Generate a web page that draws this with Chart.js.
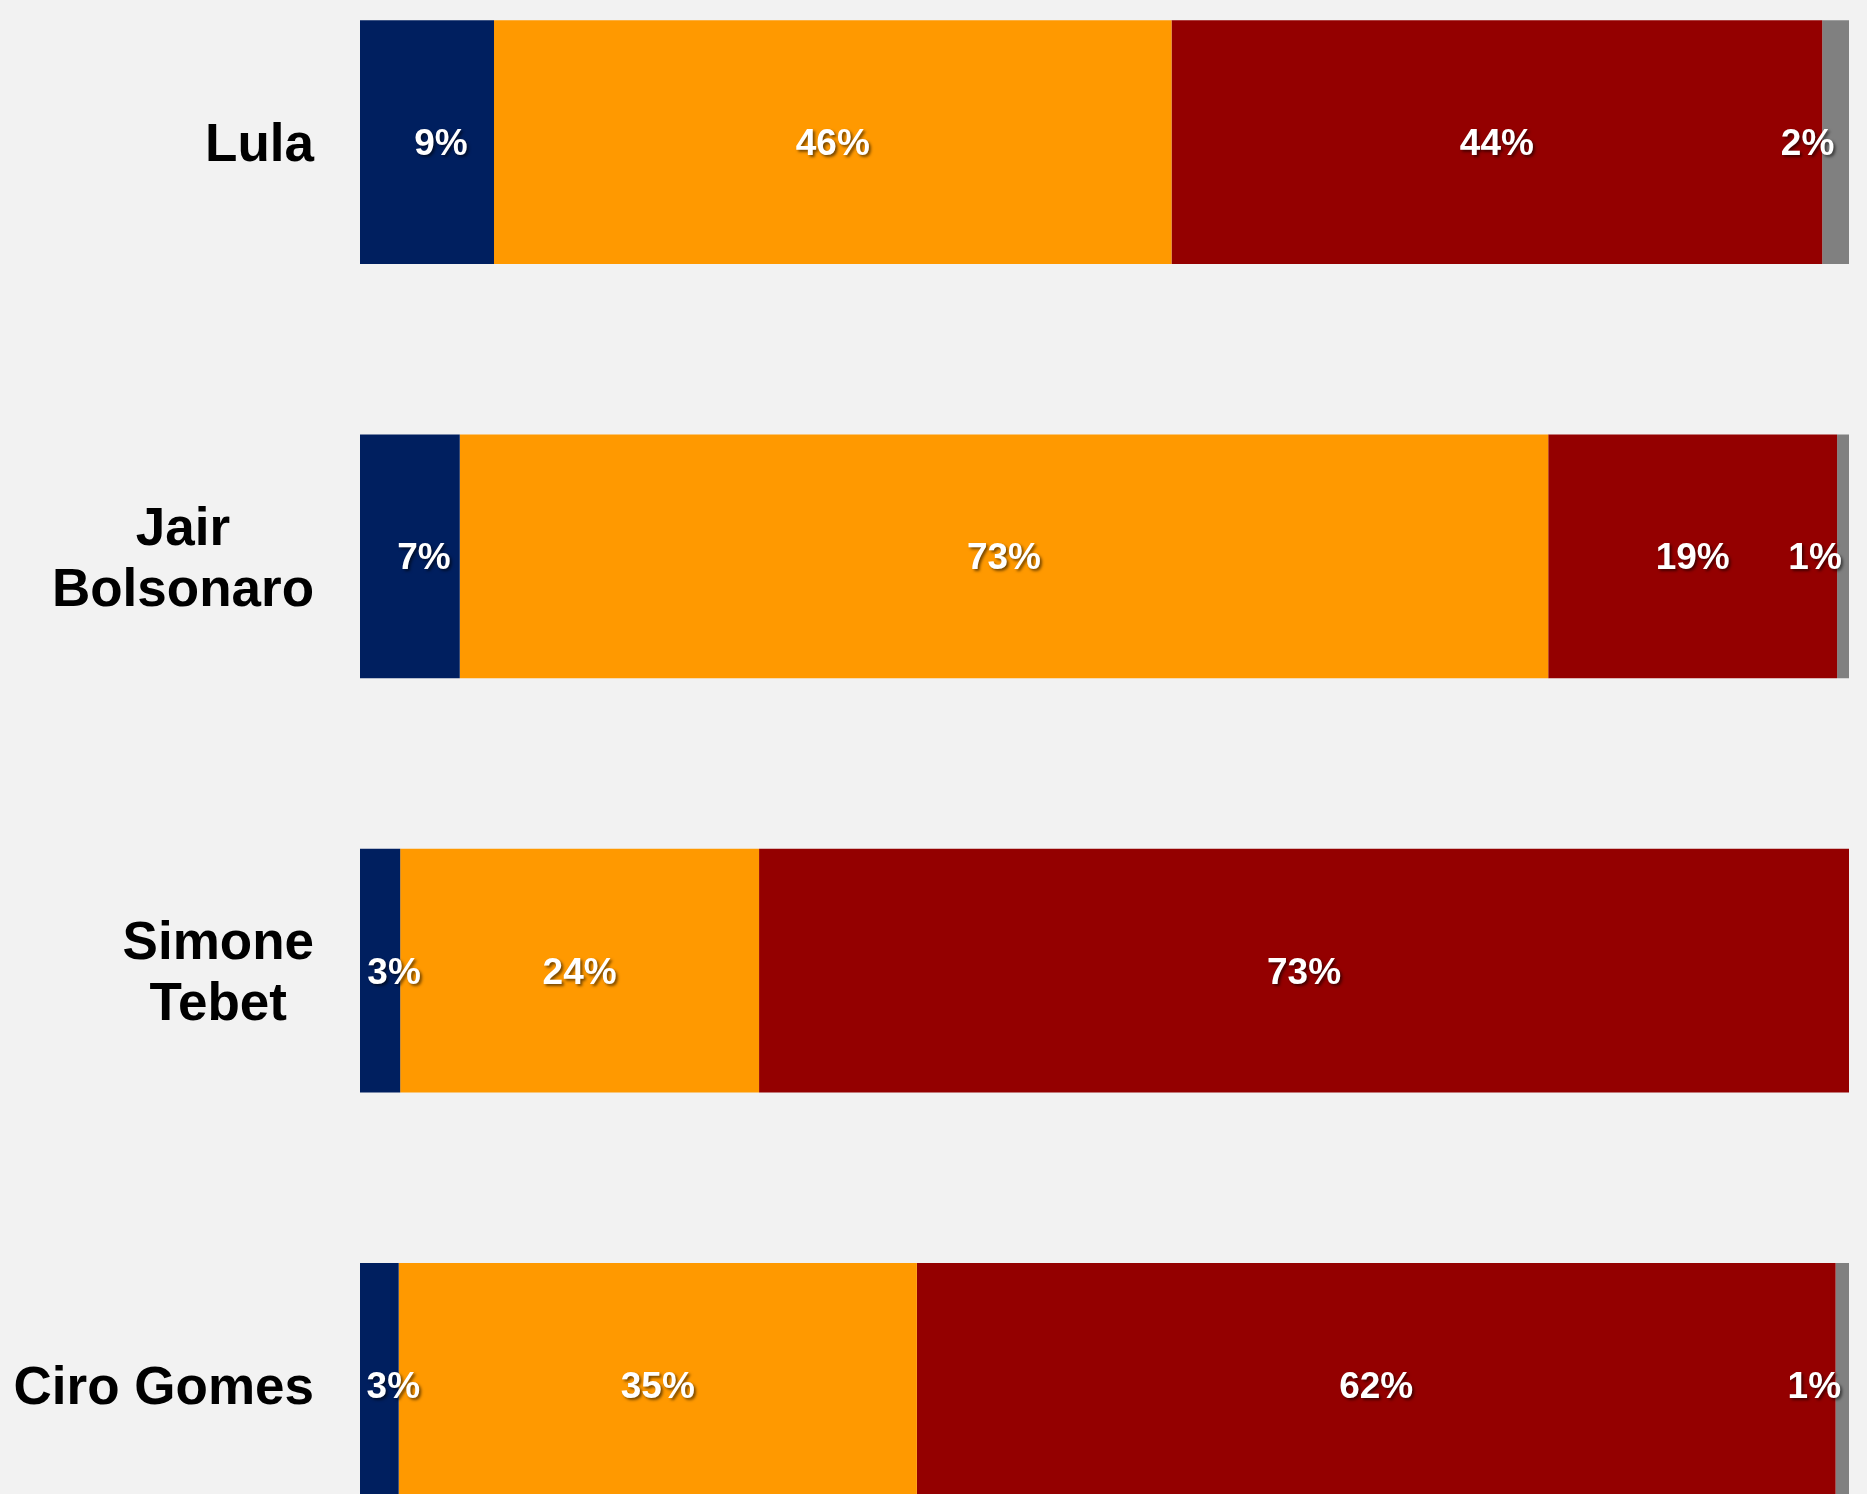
<!DOCTYPE html>
<html>
<head>
<meta charset="utf-8">
<script src="https://cdn.jsdelivr.net/npm/chart.js@4.4.1/dist/chart.umd.min.js"></script>
<style>
  body { margin: 0; background: #f2f2f2; }
  #frame { position: relative; width: 1867px; height: 1494px; overflow: hidden; background: #f2f2f2; }
  #wrap { position: absolute; left: 0; top: -65px; width: 1867px; height: 1657px; }
</style>
</head>
<body>
<div id="frame">
  <div id="wrap"><canvas id="chart"></canvas></div>
</div>
<script>
// kategori (kandidat)
const candidates = [["Lula"], ["Jair", "Bolsonaro"], ["Simone", "Tebet"], ["Ciro Gomes"]];

// nilai tiap segmen (persen)
const serieBiru = [9.0, 6.7, 2.7, 2.6];
const serieOranye = [45.5, 73.1, 24.1, 34.8];
const serieMerah = [43.7, 19.4, 73.2, 61.7];
const serieAbu = [1.8, 0.8, 0, 0.9];

const warna = ["#001f5f", "#ff9900", "#940000", "#808080"];
// geser label kecil (biru ke kanan, abu ke kiri)
const geserLabel = [14, 0, 0, -28];

const fontName = '"Liberation Sans", Arial, sans-serif';

// plugin untuk nama kandidat di kiri (baris ditengahkan, blok rata kanan)
const namaPlugin = {
  id: "namaKandidat",
  afterDraw(chart) {
    const ctx = chart.ctx;
    const yScale = chart.scales.y;
    const right = chart.chartArea.left - 46;
    ctx.save();
    ctx.font = "bold 53px " + fontName;
    ctx.fillStyle = "#000";
    ctx.textAlign = "center";
    ctx.textBaseline = "alphabetic";
    candidates.forEach(function (lines, i) {
      const y = yScale.getPixelForValue(i);
      const maxW = Math.max(...lines.map(function (l) { return ctx.measureText(l).width; }));
      const cx = right - maxW / 2;
      lines.forEach(function (l, k) {
        const by = y + 19 + (k - (lines.length - 1) / 2) * 61;
        ctx.fillText(l, cx, by);
      });
    });
    ctx.restore();
  },
};

// plugin label persen di dalam batang
const labelPlugin = {
  id: "labelPersen",
  afterDatasetsDraw(chart) {
    const ctx = chart.ctx;
    ctx.save();
    ctx.font = "bold 37px " + fontName;
    ctx.fillStyle = "#ffffff";
    ctx.textAlign = "center";
    ctx.textBaseline = "alphabetic";
    ctx.shadowColor = "rgba(0,0,0,0.55)";
    ctx.shadowOffsetX = 2;
    ctx.shadowOffsetY = 2;
    ctx.shadowBlur = 3;
    chart.data.datasets.forEach(function (ds, di) {
      const meta = chart.getDatasetMeta(di);
      meta.data.forEach(function (bar, i) {
        const v = ds.data[i];
        if (!v) return;
        const cx = (bar.x + bar.base) / 2 + geserLabel[di];
        ctx.fillText(Math.round(v) + "%", cx, bar.y + 13);
      });
    });
    ctx.restore();
  },
};

new Chart(document.getElementById("chart"), {
  type: "bar",
  data: {
    labels: candidates,
    datasets: [
      { label: "Biru", data: serieBiru, backgroundColor: warna[0] },
      { label: "Oranye", data: serieOranye, backgroundColor: warna[1] },
      { label: "Merah", data: serieMerah, backgroundColor: warna[2] },
      { label: "Abu", data: serieAbu, backgroundColor: warna[3] },
    ],
  },
  options: {
    indexAxis: "y",
    responsive: true,
    maintainAspectRatio: false,
    animation: false,
    layout: { padding: { left: 0, right: 18, top: 0, bottom: 0 } },
    datasets: {
      bar: { barPercentage: 1, categoryPercentage: 0.588, borderWidth: 0 },
    },
    plugins: {
      legend: { display: false },
      tooltip: { enabled: false },
    },
    scales: {
      x: {
        stacked: true,
        min: 0,
        max: 100,
        display: false,
      },
      y: {
        stacked: true,
        grid: { display: false, drawTicks: false },
        border: { display: false },
        ticks: { display: false },
        afterFit: function (scale) { scale.width = 360; },
      },
    },
  },
  plugins: [labelPlugin, namaPlugin],
});
</script>
</body>
</html>
